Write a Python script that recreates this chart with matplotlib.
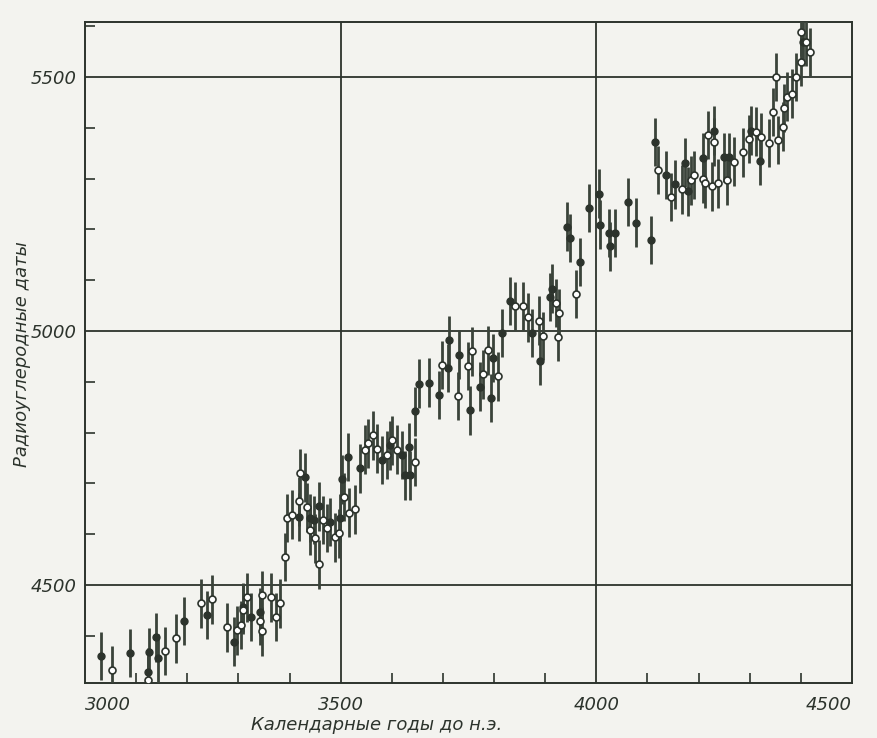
import matplotlib

matplotlib.use("Agg")
import matplotlib.pyplot as plt
from matplotlib.ticker import MultipleLocator

BG = "#f3f3ef"
INK = "#2c332c"

# calendar year BC, radiocarbon age — filled (dark) points
filled_x = [3031, 3088, 3123, 3125, 3139, 3143, 3194, 3239, 3291, 3309, 3325, 3342,
            3419, 3430, 3440, 3448, 3458, 3479, 3499, 3503, 3514, 3538, 3581, 3597,
            3620, 3626, 3636, 3634, 3645, 3653, 3673, 3692, 3710, 3712, 3732, 3753,
            3773, 3798, 3794, 3816, 3831, 3874, 3890, 3909, 3913, 3943, 3949, 3968,
            3986, 4005, 4007, 4025, 4027, 4037, 4062, 4078, 4107, 4115, 4136, 4154,
            4174, 4179, 4209, 4230, 4250, 4260, 4303, 4320, 4404]
filled_y = [4360, 4366, 4328, 4368, 4397, 4356, 4429, 4441, 4388, 4456, 4437, 4447,
            4634, 4712, 4632, 4628, 4655, 4624, 4632, 4708, 4752, 4730, 4746, 4775,
            4756, 4716, 4716, 4771, 4842, 4896, 4898, 4874, 4927, 4982, 4953, 4844,
            4890, 4947, 4868, 4996, 5059, 4996, 4941, 5067, 5083, 5205, 5183, 5136,
            5242, 5270, 5209, 5193, 5167, 5193, 5254, 5213, 5179, 5372, 5307, 5289,
            5331, 5275, 5341, 5394, 5342, 5342, 5394, 5335, 5569]

# open (hollow) points
open_x = [3053, 3123, 3156, 3178, 3227, 3248, 3278, 3297, 3305, 3309, 3317, 3342,
          3346, 3346, 3364, 3374, 3381, 3391, 3395, 3405, 3419, 3421, 3434, 3440,
          3450, 3458, 3466, 3473, 3489, 3497, 3507, 3516, 3528, 3548, 3553, 3563,
          3571, 3591, 3600, 3610, 3645, 3698, 3730, 3749, 3757, 3778, 3788, 3808,
          3841, 3857, 3866, 3888, 3896, 3921, 3927, 3925, 3960, 4121, 4146, 4168,
          4185, 4191, 4209, 4213, 4219, 4230, 4226, 4238, 4256, 4269, 4287, 4299,
          4312, 4322, 4338, 4346, 4351, 4355, 4365, 4367, 4373, 4383, 4391, 4400,
          4400, 4410, 4418]
open_y = [4332, 4313, 4370, 4395, 4464, 4472, 4417, 4411, 4421, 4451, 4476, 4429,
          4480, 4409, 4476, 4437, 4464, 4555, 4632, 4638, 4665, 4720, 4653, 4608,
          4592, 4541, 4628, 4612, 4594, 4602, 4673, 4642, 4649, 4766, 4779, 4795,
          4768, 4756, 4785, 4766, 4742, 4933, 4872, 4931, 4960, 4915, 4962, 4911,
          5049, 5049, 5027, 5020, 4990, 5055, 5035, 4988, 5073, 5317, 5264, 5279,
          5297, 5307, 5299, 5291, 5386, 5372, 5285, 5291, 5297, 5333, 5352, 5378,
          5392, 5382, 5370, 5431, 5500, 5376, 5402, 5439, 5461, 5467, 5500, 5530,
          5589, 5569, 5549]

SIGMA = 48

x_ticks = [3000, 3500, 4000, 4500]
y_ticks = [4500, 5000, 5500]

fig = plt.figure(figsize=(8.77, 7.38), dpi=100, facecolor=BG)
ax = fig.add_axes([0.097, 0.0745, 0.8745, 0.8955], facecolor=BG)

for v in x_ticks[1:-1]:
    ax.axvline(v, color=INK, lw=1.3, zorder=1)
for v in y_ticks:
    ax.axhline(v, color=INK, lw=1.3, zorder=1)

ax.errorbar(filled_x, filled_y, yerr=SIGMA, fmt="o", ms=5, mfc=INK, mec=INK,
            ecolor="#3a433a", elinewidth=2.0, capsize=0, zorder=3)
ax.errorbar(open_x, open_y, yerr=SIGMA, fmt="o", ms=5, mfc="white", mec=INK, mew=1.2,
            ecolor="#3a433a", elinewidth=2.0, capsize=0, zorder=3)

ax.set_xlim(3000, 4500)
ax.set_ylim(4307, 5608)
ax.set_xticks(x_ticks)
ax.set_yticks(y_ticks)
ax.xaxis.set_minor_locator(MultipleLocator(100))
ax.yaxis.set_minor_locator(MultipleLocator(100))
ax.tick_params(which="major", length=0, labelsize=13, labelcolor=INK)
ax.tick_params(axis="x", which="major", pad=9)
ax.tick_params(axis="y", which="major", pad=6)
ax.tick_params(which="minor", direction="in", length=7, width=1.2, color=INK)
for lab in ax.get_xticklabels() + ax.get_yticklabels():
    lab.set_fontstyle("italic")
xl = ax.get_xticklabels()
xl[0].set_ha("left")
xl[-1].set_ha("right")
for s in ax.spines.values():
    s.set_color(INK)
    s.set_linewidth(1.4)

fig.text(0.025, 0.52, "Радиоуглеродные даты", rotation=90, ha="center", va="center",
         fontsize=13, fontstyle="italic", color=INK)
fig.text(0.43, 0.018, "Календарные годы до н.э.", ha="center", va="center",
         fontsize=13, fontstyle="italic", color=INK)

fig.savefig("out.png", dpi=100, facecolor=BG)
